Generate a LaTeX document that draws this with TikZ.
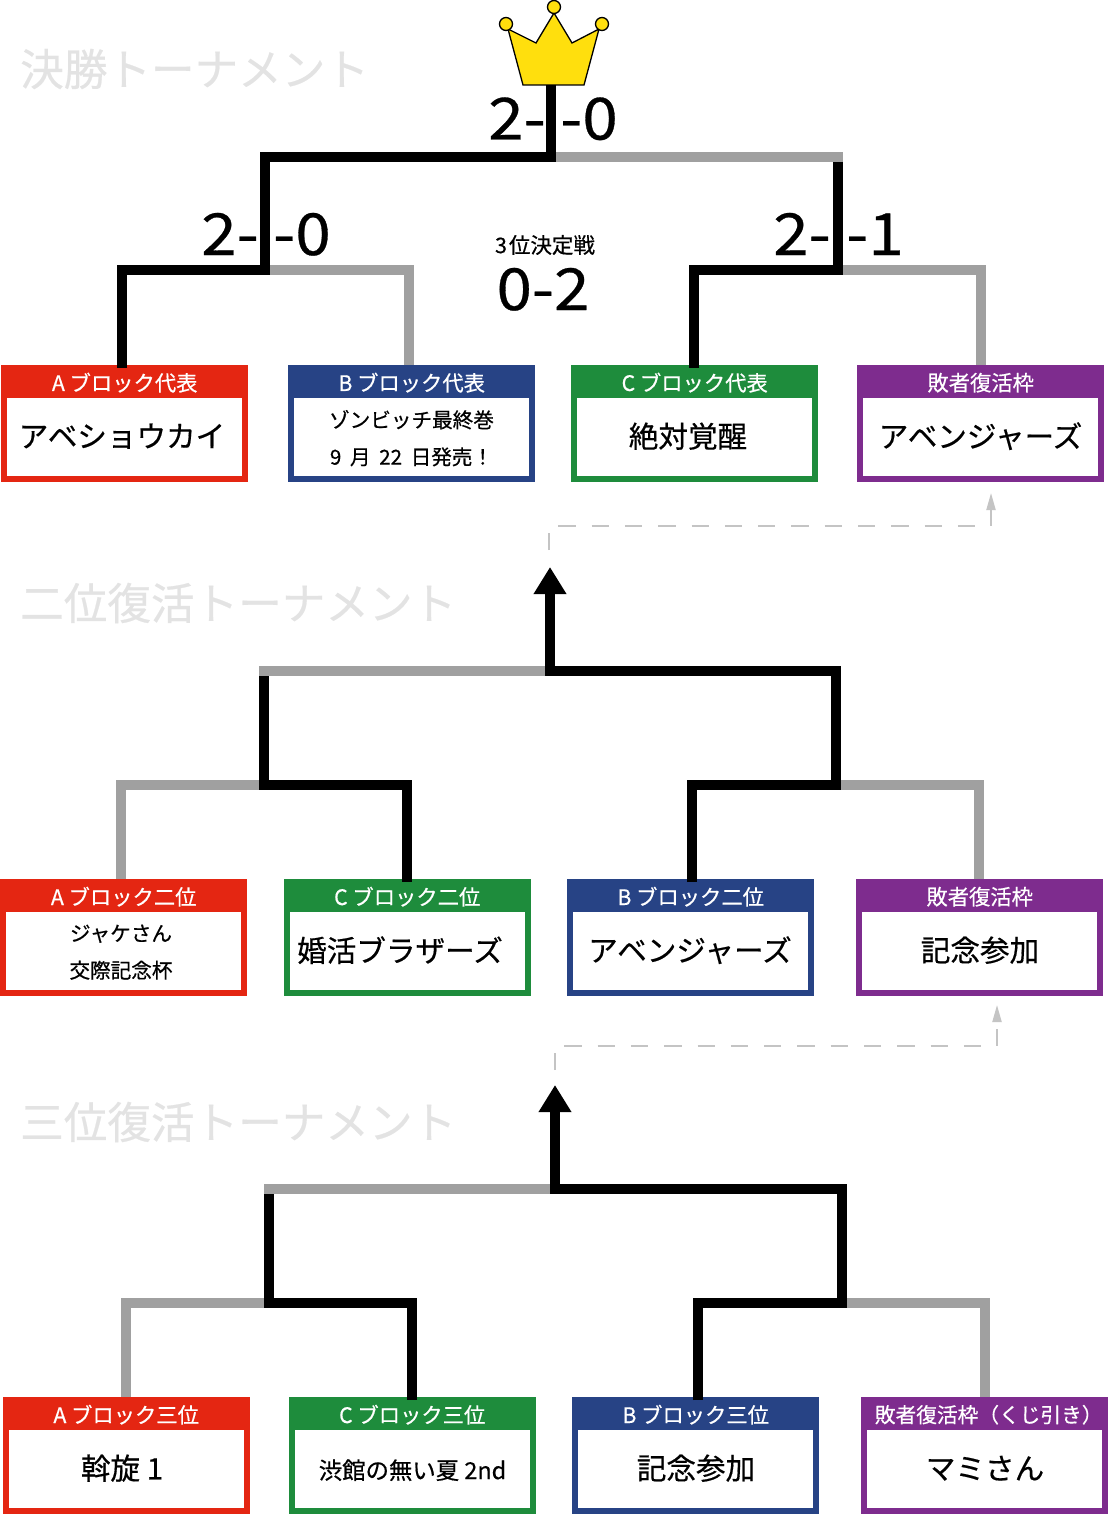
\documentclass[tikz,border=0pt]{standalone}
\usepackage{fontspec}
\usetikzlibrary{backgrounds,arrows.meta}
\setmainfont{Noto Sans CJK JP}
\newfontfamily\jpm[FakeBold=0.5]{Noto Sans CJK JP}
\newfontfamily\jpw[FakeBold=0.5,FakeStretch=1.1]{Noto Sans CJK JP}
\definecolor{cred}{HTML}{E42612}
\definecolor{cblue}{HTML}{274385}
\definecolor{cgreen}{HTML}{1E8C3C}
\definecolor{cpurple}{HTML}{7E2C8E}
\definecolor{cgray}{HTML}{A0A0A0}
\definecolor{cdash}{HTML}{C4C4C4}
\definecolor{ctitle}{HTML}{E3E3E3}
\definecolor{ccrown}{HTML}{FFDF0D}
\tikzset{
  outerbox/.style={rectangle,inner sep=0pt,minimum width=247pt,minimum height=117pt,anchor=north west},
  innerbox/.style={rectangle,fill=white,inner sep=0pt,minimum width=235pt,minimum height=78pt},
  headtext/.style={text=white,font=\jpm\fontsize{21.3}{21.3}\selectfont,inner sep=0pt},
  maintext/.style={font=\jpm\fontsize{29.6}{29.6}\selectfont,inner sep=0pt,yshift=2pt},
  smalltext/.style={font=\jpm\fontsize{20.6}{37}\selectfont,inner sep=0pt,align=center},
  midtext/.style={font=\jpm\fontsize{23.4}{23.4}\selectfont,inner sep=0pt},
  sectitle/.style={text=ctitle,font=\jpm\fontsize{43.6}{43.6}\selectfont,inner sep=0pt,anchor=west},
  score/.style={font=\jpw\fontsize{58}{58}\selectfont,inner sep=0pt},
  scoreL/.style={score,anchor=base east},
  scoreR/.style={score,anchor=base west},
  crownball/.style={circle,fill=ccrown,draw=black,line width=1.3pt,minimum size=13pt,inner sep=0pt},
  win/.style={line width=10pt,line join=miter},
  lose/.style={line width=10pt,cgray,line cap=rect,line join=miter},
  revive/.style={line width=2pt,cdash,dash pattern=on 17.3pt off 16pt,-{Triangle[length=17pt,width=9pt]}},
  bigarrow/.style={win,-{Triangle[length=27pt,width=31pt,sep=0pt]}},
}
% name, x, y, colour, heading, content style, content, content centre x
\newcommand{\tbox}[8]{%
  \node[outerbox,fill=#4] (#1) at (#2,#3) {};
  \node[innerbox] (#1in) at ([yshift=-13.5pt]#1.center) {};
  \node[headtext] (#1head) at ([yshift=41pt]#1.center) {#5};
  \node[#6] (#1txt) at ([yshift=-1pt]#8,0 |- #1in.center) {#7};
}
\begin{document}
\begin{tikzpicture}[x=1pt,y=-1pt]
\useasboundingbox (0,0) rectangle (1108,1514);

% section titles
\node[sectitle] (t1) at (20,69) {決勝トーナメント};
\node[sectitle] (t2) at (20,603) {二位復活トーナメント};
\node[sectitle] (t3) at (20,1122) {三位復活トーナメント};

% boxes, final
\tbox{a1}{1}{365}{cred}{A ブロック代表}{maintext}{アベショウカイ}{122}
\tbox{b1}{288}{365}{cblue}{B ブロック代表}{smalltext}{ゾンビッチ最終巻\\9\hspace{4pt} 月\hspace{4pt} 22\hspace{4pt} 日発売！}{411.5}
\tbox{c1}{571}{365}{cgreen}{C ブロック代表}{maintext}{絶対覚醒}{688}
\tbox{d1}{857}{365}{cpurple}{敗者復活枠}{maintext}{アベンジャーズ}{980.5}
% boxes, second
\tbox{a2}{0}{879}{cred}{A ブロック二位}{smalltext}{ジャケさん\\交際記念杯}{121}
\tbox{b2}{283.5}{879}{cgreen}{C ブロック二位}{maintext}{婚活ブラザーズ}{400}
\tbox{c2}{567}{879}{cblue}{B ブロック二位}{maintext}{アベンジャーズ}{690}
\tbox{d2}{856}{879}{cpurple}{敗者復活枠}{maintext}{記念参加}{980}
% boxes, third
\tbox{a3}{2.5}{1397}{cred}{A ブロック三位}{maintext}{斡旋 1}{122}
\tbox{b3}{288.5}{1397}{cgreen}{C ブロック三位}{midtext}{渋館の無い夏 2nd}{412.5}
\tbox{c3}{572}{1397}{cblue}{B ブロック三位}{maintext}{記念参加}{696}
\tbox{d3}{861}{1397}{cpurple}{\hspace{8pt}\fontsize{20.7}{21}\selectfont 敗者復活枠（くじ引き）}{maintext}{マミさん}{985}

% crown
\coordinate (crownbase) at (551,85);
\filldraw[fill=ccrown,draw=black,line width=1.3pt,line join=miter]
  (523,85) -- (584,85) -- (599,29) -- (572,43) -- (554,13) -- (536,43) -- (508,29) -- cycle;
\node[crownball] (cr1) at (506,24) {};
\node[crownball] (cr2) at (554,7) {};
\node[crownball] (cr3) at (602,24) {};

% junctions, final
\coordinate (f0) at (551,157); \coordinate (fl) at (265,157); \coordinate (fr) at (838,157);
\coordinate (fll) at (265,270); \coordinate (frr) at (838,270);
\coordinate (fa) at (122,270); \coordinate (fb) at (409,270); \coordinate (fc) at (694,270); \coordinate (fd) at (981,270);
\coordinate (fr2) at (838,162);
% junctions, second
\coordinate (s0) at (550,671); \coordinate (sl) at (264,671); \coordinate (sr) at (836,671);
\coordinate (sll) at (264,785); \coordinate (srr) at (836,785);
\coordinate (sa) at (121,785); \coordinate (sb) at (407,785); \coordinate (sc) at (692,785); \coordinate (sd) at (979,785);
\coordinate (sl2) at (264,676);
\coordinate (sup) at (550,567);
% junctions, third
\coordinate (h0) at (555,1189); \coordinate (hl) at (269,1189); \coordinate (hr) at (842,1189);
\coordinate (hll) at (269,1303); \coordinate (hrr) at (842,1303);
\coordinate (ha) at (126,1303); \coordinate (hb) at (412,1303); \coordinate (hc) at (698,1303); \coordinate (hd) at (985,1303);
\coordinate (hl2) at (269,1194);
\coordinate (hup) at (555,1085);

% losing lines, under the boxes
\begin{scope}[on background layer]
\fill[white] (0,0) rectangle (1108,1514);
\draw[lose] (f0) -- (fr);
\draw[lose] (fll) -- (fb) -- (fb |- b1.north);
\draw[lose] (frr) -- (fd) -- (fd |- d1.north);
\draw[lose] (s0) -- (sl);
\draw[lose] (sll) -- (sa) -- (sa |- a2.north);
\draw[lose] (srr) -- (sd) -- (sd |- d2.north);
\draw[lose] (h0) -- (hl);
\draw[lose] (hll) -- (ha) -- (ha |- a3.north);
\draw[lose] (hrr) -- (hd) -- (hd |- d3.north);
\end{scope}

% winning lines
\draw[win] (crownbase) -- (f0) -- (fl) -- (fll) -- (fa) -- ([yshift=-3pt]fa |- a1.north);
\draw[win] (fr2) -- (frr) -- (fc) -- ([yshift=-3pt]fc |- c1.north);
\draw[bigarrow] ([yshift=-3pt]sc |- c2.north) -- (sc) -- (srr) -- (sr) -- (s0) -- (sup);
\draw[win] (sl2) -- (sll) -- (sb) -- ([yshift=-3pt]sb |- b2.north);
\draw[bigarrow] ([yshift=-3pt]hc |- c3.north) -- (hc) -- (hrr) -- (hr) -- (h0) -- (hup);
\draw[win] (hl2) -- (hll) -- (hb) -- ([yshift=-3pt]hb |- b3.north);

% revival links
\coordinate (r1a) at (549,550); \coordinate (r1b) at (549,526); \coordinate (r1c) at (991,526); \coordinate (r1d) at (991,493);
\coordinate (r2a) at (555,1070); \coordinate (r2b) at (555,1046); \coordinate (r2c) at (997,1046); \coordinate (r2d) at (997,1005);
\draw[revive] (r1a) -- (r1b) -- (r1c) -- (r1d);
\draw[revive] (r2a) -- (r2b) -- (r2c) -- (r2d);

% scores
\node[scoreL] (s1a) at (546,139.5) {2-};
\node[scoreR] (s1b) at (560,139.5) {-0};
\node[scoreL] (s2a) at (259,255) {2-};
\node[scoreR] (s2b) at (273,255) {-0};
\node[scoreL] (s3a) at (831,255) {2-};
\node[scoreR] (s3b) at (846,255) {-1};
\node[font=\jpm\fontsize{21.5}{21.5}\selectfont,inner sep=0pt] (third) at (545,245) {3\hspace{2pt}位決定戦};
\node[score,anchor=base] (thirdscore) at (543,310) {0-2};
\end{tikzpicture}
\end{document}
